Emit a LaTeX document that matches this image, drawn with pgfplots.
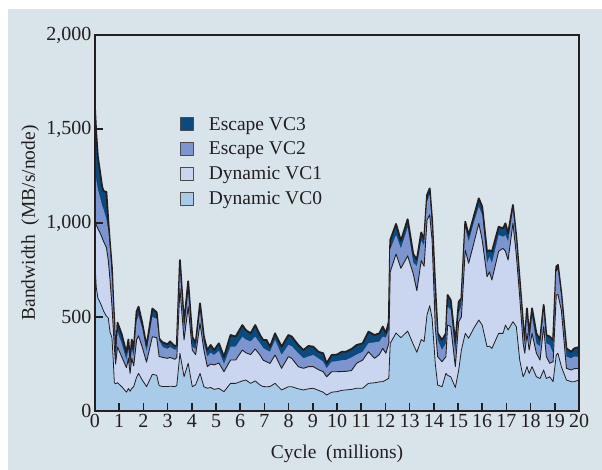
\documentclass[border=0pt]{standalone}
\usepackage{pgfplots}
\pgfplotsset{compat=1.18}
\usepackage{pgfplotstable}
\usepackage{fontspec}
\setmainfont{Liberation Serif}

\definecolor{panel}{HTML}{D9E3EA}
\definecolor{vcthree}{HTML}{0B4A7F}
\definecolor{vctwo}{HTML}{7D95CF}
\definecolor{vcone}{HTML}{CAD6EF}
\definecolor{vczero}{HTML}{A9CBEA}
\definecolor{ink}{HTML}{231F20}

% cumulative boundaries: v0 = VC0, c1 = VC0+VC1, c2 = +VC2, tot = +VC3
\pgfplotstableread{
t     v0   c1    c2    tot
0.00  790  1005  1300  1610
0.05  660  990   1230  1480
0.12  600  970   1180  1350
0.20  580  950   1140  1280
0.30  550  920   1090  1190
0.36  530  900   1070  1170
0.47  505  870   1020  1165
0.55  495  800   960   1010
0.62  420  700   850   890
0.70  390  560   700   760
0.75  280  450   560   600
0.80  150  340   420   470
0.85  145  250   255   260
0.93  150  340   420   470
1.10  130  290   360   410
1.30  100  230   270   310
1.38  120  280   330   380
1.45  105  200   230   260
1.52  120  280   330   380
1.60  130  240   290   330
1.72  180  380   480   530
1.80  200  400   505   555
1.95  165  340   440   470
2.13  130  260   315   345
2.37  195  395   500   545
2.55  190  390   490   525
2.65  135  290   375   385
2.80  130  285   340   365
3.00  130  280   330   355
3.10  132  285   340   370
3.30  130  275   325   345
3.38  135  285   330   350
3.51  307  652   741   803
3.68  182  378   431   466
3.85  254  555   626   690
4.02  129  324   342   395
4.16  140  300   330   360
4.34  200  466   528   573
4.50  129  324   360   395
4.64  121  236   289   324
4.78  125  250   310   351
4.92  115  245   298   324
5.12  120  255   320   360
5.33  103  209   250   289
5.60  147  271   342   404
5.81  147  271   342   396
6.09  160  324   395   457
6.23  165  310   380   431
6.43  147  300   370   413
6.62  160  330   395   457
6.82  138  298   360   404
6.95  130  270   335   378
7.09  129  262   324   378
7.23  130  253   315   342
7.44  147  298   378   413
7.71  112  227   298   342
7.99  129  289   351   404
8.13  129  280   345   396
8.40  118  236   307   351
8.61  112  227   280   324
8.82  118  236   290   346
9.02  121  236   298   342
9.23  110  220   280   315
9.43  100  209   262   307
9.57  85   182   227   254
9.78  100  209   262   298
10.00 103  209   265   300
10.20 110  210   270   315
10.37 112  211   271   315
10.60 115  215   285   330
10.81 121  254   300   351
11.06 121  271   315   360
11.30 147  315   360   422
11.55 150  280   365   404
11.75 155  300   369   413
11.89 156  333   395   449
12.02 165  307   390   413
12.14 174  360   431   475
12.20 360  740   860   910
12.44 415  835   936   995
12.64 390  759   865   905
12.92 425  825   975   1020
13.15 355  730   790   835
13.30 312  640   770   805
13.48 380  800   905   950
13.60 370  770   880   915
13.72 511  1016  1113  1149
13.83 560  1043  1149  1184
13.93 493  909   963   1016
14.06 254  450   580   660
14.16 138  289   378   413
14.34 129  262   324   378
14.50 200  289   360   413
14.57 190  457   555   617
14.70 182  449   537   590
14.89 125  236   307   360
15.03 218  475   520   581
15.14 324  500   560   599
15.30 413  856   972   1007
15.44 387  786   901   936
15.65 440  890   1000  1034
15.86 484  998   1087  1131
16.00 457  909   1043  1087
16.20 342  714   786   847
16.30 345  740   820   855
16.40 333  697   786   847
16.68 413  850   936   980
16.86 413  865   927   972
16.96 457  850   935   998
17.07 431  803   901   945
17.27 475  998   1069  1096
17.41 449  830   892   927
17.55 271  608   660   697
17.69 182  360   431   466
17.76 200  307   342   378
17.85 236  413   502   546
17.94 200  324   360   404
18.06 236  413   502   546
18.24 182  307   360   413
18.39 173  271   342   378
18.54 218  449   528   564
18.65 173  289   360   404
18.79 182  254   351   396
18.93 156  262   307   378
19.06 298  617   741   768
19.13 307  620   750   777
19.27 236  537   599   626
19.48 165  227   289   333
19.68 156  218   280   315
19.80 156  225   290   333
20.00 165  227   289   340
}\data

\begin{document}
\begin{tikzpicture}
\fill[white] (-95pt,-59pt) rectangle (507pt,411pt);
\fill[panel] (-87pt,-59pt) rectangle (507pt,402pt);
\begin{axis}[
  at={(0pt,0pt)}, anchor=south west,
  scale only axis,
  width=484pt, height=376pt,
  xmin=0, xmax=20, ymin=0, ymax=2000,
  xtick={0,1,...,20},
  ytick={0,500,1000,1500,2000},
  scaled y ticks=false,
  /pgf/number format/.cd, 1000 sep={,}, assume math mode=true, /pgfplots/.cd,
  tick align=inside, xtick pos=left, ytick pos=left,
  major tick length=8pt,
  tick style={line width=1.6pt, ink},
  axis line style={line width=2.6pt, ink},
  axis on top,
  tick label style={font=\fontsize{20}{23}\selectfont, text=ink},
  label style={font=\fontsize{19.5}{23}\selectfont, text=ink},
  xlabel={Cycle\ \ (millions)},
  ylabel={Bandwidth\ \ (MB/s/node)},
  x label style={at={(axis description cs:0.5,-0.115)}, anchor=center},
  y label style={at={(axis description cs:-0.134,0.5)}, anchor=center},
  legend style={at={(rel axis cs:0.17,0.79)}, anchor=north west,
    draw=none, fill=none, font=\fontsize{19.5}{23}\selectfont,
    row sep=8.5pt, nodes={inner sep=1pt, text=ink}},
  legend cell align=left,
  legend image code/.code={%
    \draw[#1, draw=black!70, line width=0.8pt] (0pt,-6pt) rectangle (13pt,7pt);
    \path[draw=none, fill=none] (0pt,0pt) -- (27pt,0pt);},
  every axis plot/.append style={line join=round},
]
\addplot[fill=vcthree, draw=ink, line width=1.8pt] table[x=t, y=tot] {\data} \closedcycle;
\addlegendentry{Escape VC3}
\addplot[fill=vctwo, draw=none] table[x=t, y=c2] {\data} \closedcycle;
\addlegendentry{Escape VC2}
\addplot[fill=vcone, draw=ink, line width=0.9pt] table[x=t, y=c1] {\data} \closedcycle;
\addlegendentry{Dynamic VC1}
\addplot[fill=vczero, draw=ink, line width=0.8pt] table[x=t, y=v0] {\data} \closedcycle;
\addlegendentry{Dynamic VC0}
\end{axis}
\end{tikzpicture}
\end{document}
